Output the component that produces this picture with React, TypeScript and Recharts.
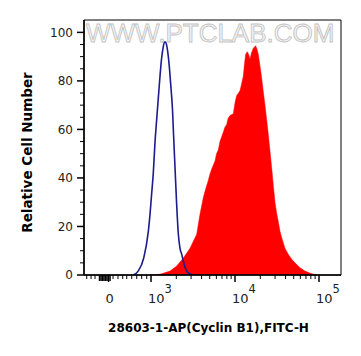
import React from 'react';
import { ComposedChart, Area, Line, XAxis, YAxis, ReferenceArea } from 'recharts';

// Axis display units: log10 of the fluorescence for the log part of the biexponential axis
const xDomain = [2.202, 5.262];
const yDomain = [0, 105.1];

// Isotype control (blue outline)
const blueX = [2.786, 2.845, 2.913, 2.968, 2.988, 3.004, 3.027, 3.048, 3.065, 3.087, 3.107, 3.125, 3.143, 3.161, 3.173, 3.19, 3.206, 3.22, 3.238, 3.256, 3.268, 3.286, 3.304, 3.325, 3.345, 3.365, 3.393, 3.425, 3.464, 3.512];
const blueY = [0, 1.5, 7, 18, 25, 32, 42, 55, 63, 73, 82, 89, 93.5, 96, 96, 94, 90, 85, 77, 68, 58, 44, 30, 17, 11, 8.6, 4.5, 1.6, 0.5, 0];

// Cyclin B1 stained (red filled)
const redX = [2.988, 3.107, 3.226, 3.306, 3.385, 3.464, 3.544, 3.583, 3.623, 3.655, 3.682, 3.702, 3.726, 3.762, 3.78, 3.801, 3.821, 3.86, 3.881, 3.901, 3.917, 3.94, 3.98, 4.0, 4.02, 4.042, 4.06, 4.08, 4.099, 4.113, 4.127, 4.146, 4.161, 4.179, 4.196, 4.218, 4.246, 4.262, 4.277, 4.298, 4.318, 4.337, 4.357, 4.377, 4.396, 4.417, 4.437, 4.456, 4.476, 4.496, 4.515, 4.536, 4.556, 4.595, 4.635, 4.675, 4.714, 4.774, 4.833, 4.905, 4.976];
const redY = [0, 0.3, 1.6, 3.7, 7, 11, 16.8, 25, 32, 36, 39, 41.6, 44, 47, 50, 51.5, 55, 58.8, 61, 62, 64.5, 65.7, 66.5, 71, 74, 75, 76, 79, 82, 87, 91, 92, 91, 89, 91.5, 93.5, 94.5, 93, 91, 86, 81, 75.5, 70, 64, 58, 51, 44, 37, 30, 25.5, 22, 18, 15.4, 11, 8.5, 6.5, 5, 3, 1.6, 0.6, 0];

const xMajorTicks = [2.494, 3, 4, 5];
const xMajorBase = ['0', '10', '10', '10'];
const xMajorExp = ['', '3', '4', '5'];
const xMinorTicks = [2.2345, 2.286, 2.333, 2.548, 2.607, 2.663, 2.711, 2.77, 2.83, 2.889, 2.949,
  3.301, 3.477, 3.602, 3.699, 3.778, 3.845, 3.903, 3.954,
  4.301, 4.477, 4.602, 4.699, 4.778, 4.845, 4.903, 4.954];
const xZeroCluster = [2.387, 2.405, 2.423, 2.44, 2.458, 2.476, 2.512];

const yMajorTicks = [0, 20, 40, 60, 80, 100];
const yMinorTicks = [5, 10, 15, 25, 30, 35, 45, 50, 55, 65, 70, 75, 85, 90, 95];

const xTitle = '28603-1-AP(Cyclin B1),FITC-H';
const yTitle = 'Relative Cell Number';
const watermark = 'WWW.PTCLAB.COM';

const blueData = blueX.map((x, i) => ({ x, y: blueY[i] }));
const redData = redX.map((x, i) => ({ x, y: redY[i] }));
const xAllTicks = [...xMinorTicks, ...xZeroCluster, ...xMajorTicks].sort((a, b) => a - b);
const yAllTicks = [...yMinorTicks, ...yMajorTicks].sort((a, b) => a - b);

const TICK_FONT = '"DejaVu Sans", sans-serif';

const XTick = (props: any) => {
  const { x, y, payload } = props;
  const v = payload.value;
  const mi = xMajorTicks.indexOf(v);
  if (mi >= 0) {
    const isZero = xMajorExp[mi] === '';
    return (
      <g>
        <line x1={x} x2={x} y1={y} y2={y + 7} stroke="#000" strokeWidth={1.5} />
        {isZero ? (
          <text x={x + 1} y={y + 28} textAnchor="middle" fontSize={13} fontFamily={TICK_FONT} fill="#222">0</text>
        ) : (
          <text x={x - 3} y={y + 28} textAnchor="start" fontSize={13} fontFamily={TICK_FONT} fill="#222">
            {xMajorBase[mi]}
            <tspan dy={-10} fontSize={11.5}>{xMajorExp[mi]}</tspan>
          </text>
        )}
      </g>
    );
  }
  if (xZeroCluster.indexOf(v) >= 0) {
    return <line x1={x} x2={x} y1={y} y2={y + 6} stroke="#000" strokeWidth={1.5} />;
  }
  return <line x1={x} x2={x} y1={y} y2={y + 4} stroke="#000" strokeWidth={1} />;
};

const YTick = (props: any) => {
  const { x, y, payload } = props;
  const v = payload.value;
  if (yMajorTicks.indexOf(v) >= 0) {
    return (
      <g>
        <line x1={x - 7} x2={x} y1={y} y2={y} stroke="#000" strokeWidth={1.5} />
        <text x={x - 11} y={y} dy="0.36em" textAnchor="end" fontSize={12} fontFamily={TICK_FONT} fill="#222">{v}</text>
      </g>
    );
  }
  return <line x1={x - 4} x2={x} y1={y} y2={y} stroke="#000" strokeWidth={1} />;
};

const XTitle = (props: any) => {
  const vb = props.viewBox || {};
  const cx = vb.x + vb.width / 2 - 4;
  return (
    <text x={cx} y={vb.y + 57} textAnchor="middle" fontSize={12} fontWeight="bold" fontFamily={TICK_FONT} fill="#000">{xTitle}</text>
  );
};

const YTitle = (props: any) => {
  const vb = props.viewBox || {};
  const cy = vb.y + vb.height / 2 + 5;
  const cx = 27;
  return (
    <text x={cx} y={cy} transform={`rotate(-90, ${cx}, ${cy})`} dy="0.36em" textAnchor="middle" fontSize={13.5} fontWeight="bold" fontFamily={TICK_FONT} fill="#000">{yTitle}</text>
  );
};

export default function App() {
  return (
    <div style={{ width: 361, height: 356, background: '#fff' }}>
      <style>{`body{margin:0;background:#fff}`}</style>
      <ComposedChart width={361} height={356} margin={{ top: 20, right: 20, bottom: 0, left: 0 }}>
        <XAxis
          type="number"
          dataKey="x"
          domain={xDomain}
          allowDataOverflow
          ticks={xAllTicks}
          interval={0}
          tick={<XTick />}
          tickLine={false}
          tickSize={0}
          tickMargin={0}
          height={81}
          axisLine={{ stroke: '#000', strokeWidth: 1.5 }}
          label={<XTitle />}
        />
        <YAxis
          type="number"
          dataKey="y"
          domain={yDomain}
          allowDataOverflow
          ticks={yAllTicks}
          interval={0}
          tick={<YTick />}
          tickLine={false}
          tickSize={0}
          tickMargin={0}
          width={84}
          axisLine={{ stroke: '#000', strokeWidth: 1.5 }}
          label={<YTitle />}
        />
        <text x={86} y={42} fontSize={26} fontFamily='"Liberation Sans", Arial, sans-serif' fill="#f6f6f6" stroke="#c4c4c4" strokeWidth={0.9}>{watermark}</text>
        <Area
          data={redData}
          dataKey="y"
          type="linear"
          stroke="#ff0000"
          strokeWidth={0.5}
          fill="#ff0000"
          fillOpacity={1}
          isAnimationActive={false}
          dot={false}
          activeDot={false}
        />
        <Line
          data={blueData}
          dataKey="y"
          type="monotone"
          stroke="#1c1c8a"
          strokeWidth={1.6}
          dot={false}
          activeDot={false}
          isAnimationActive={false}
        />
        <ReferenceArea
          x1={xDomain[0]}
          x2={xDomain[1]}
          y1={yDomain[0]}
          y2={yDomain[1]}
          fill="none"
          stroke="#000"
          strokeWidth={1}
          ifOverflow="visible"
        />
      </ComposedChart>
    </div>
  );
}
